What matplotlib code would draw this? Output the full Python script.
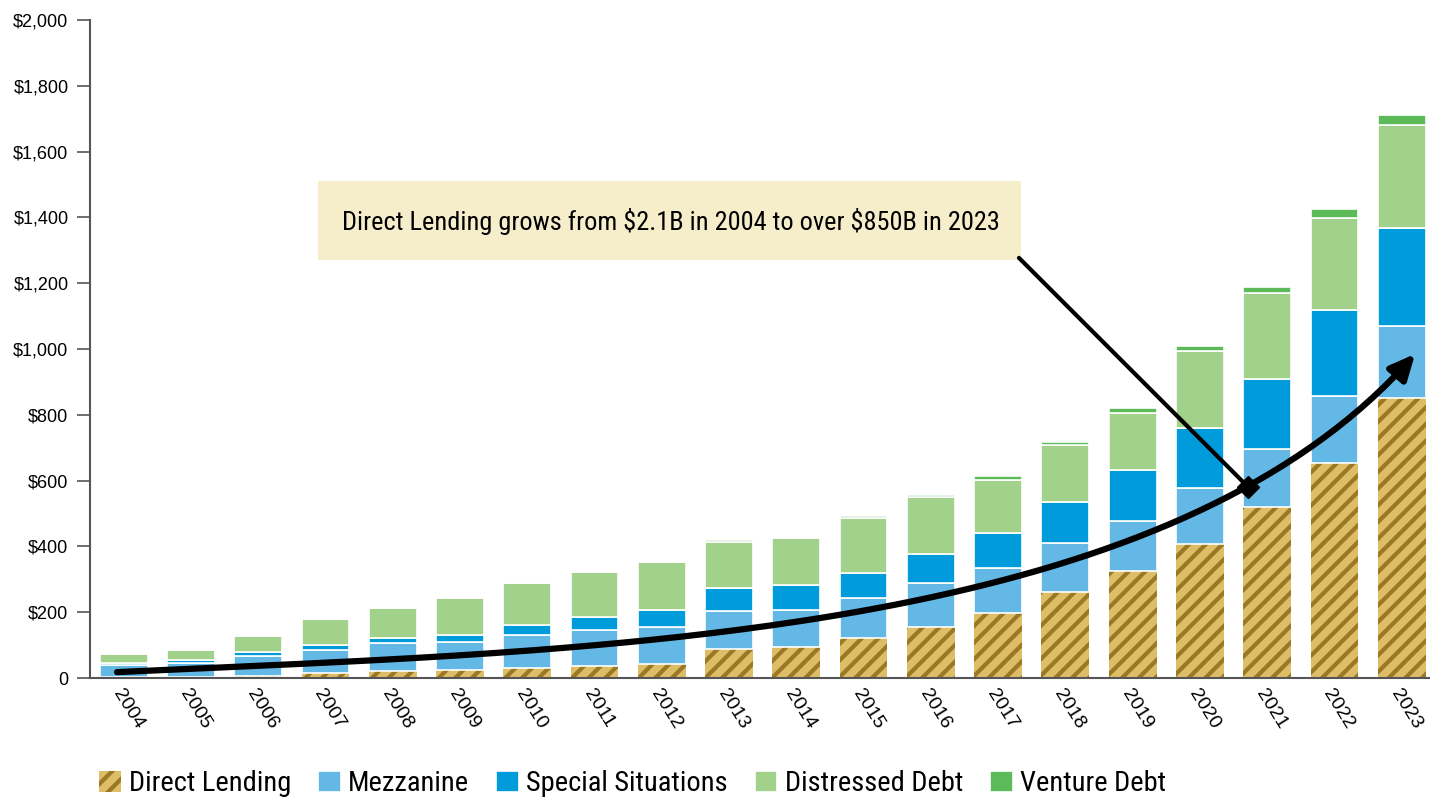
import numpy as np
import matplotlib
matplotlib.use('Agg')
import matplotlib.pyplot as plt
from matplotlib.patches import Rectangle, FancyArrowPatch
from matplotlib.path import Path

years = [str(y) for y in range(2004, 2024)]
direct_lending = [2.1, 3, 7, 15, 21, 24, 31, 37, 43, 87, 95, 123, 155, 199, 262, 325, 407, 519, 653, 852]
mezzanine = [38, 44, 59, 69, 84, 86, 100, 109, 111, 118, 112, 120, 134, 134, 149, 152, 171, 177, 205, 218]
special_sit = [6, 9, 13, 17, 17, 22, 30, 38, 53, 68, 75, 77, 87, 108, 125, 155, 182, 213, 260, 298]
distressed = [27, 28, 48, 78, 92, 110, 128, 137, 145, 141, 143, 166, 174, 162, 172, 174, 233, 260, 280, 312]
venture = [1, 1, 2, 2, 3, 4, 3, 4, 4, 5, 5, 7, 7, 11, 9, 15, 16, 19, 26, 30]

series_names = ['Direct Lending', 'Mezzanine', 'Special Situations', 'Distressed Debt', 'Venture Debt']
colors = ['#DDBD66', '#64B8E6', '#009BDA', '#A1D18B', '#5CBB58']
yticks = list(range(0, 2001, 200))
ytick_labels = ['0'] + ['${:,}'.format(v) for v in yticks[1:]]

note = 'Direct Lending grows from $2.1B in 2004 to over $850B in 2023'

narrow = ['Roboto Condensed', 'Open Sans Condensed', 'DejaVu Sans']
plt.rcParams['font.family'] = ['Liberation Sans', 'DejaVu Sans']
plt.rcParams['hatch.linewidth'] = 3

fig = plt.figure(figsize=(14.3, 7.99), dpi=100)
ax = fig.add_axes([0.063, 0.1514, 0.936, 0.8236])

x = np.arange(len(years))
w = 0.71
ax.bar(x, direct_lending, w, color=colors[0], edgecolor='#9A7826', hatch='//',
       linewidth=0, label=series_names[0])
bottom = np.array(direct_lending, dtype=float)
for vals, c, name in zip([mezzanine, special_sit, distressed, venture], colors[1:], series_names[1:]):
    ax.bar(x, vals, w, bottom=bottom, color=c, edgecolor='white', linewidth=1.2, label=name)
    bottom += np.array(vals)

ax.set_xlim(-0.5, 19.4)
ax.set_ylim(0, 2000)
ax.set_yticks(yticks)
ax.set_yticklabels(ytick_labels, fontsize=13)
ax.set_xticks(x)
ax.set_xticklabels(years, fontsize=14, rotation=-58, ha='left', va='top', rotation_mode='anchor')
ax.tick_params(axis='x', length=0, pad=6)
ax.tick_params(axis='y', length=9.5, width=1.2, color='#555555', pad=6)
for s in ['top', 'right']:
    ax.spines[s].set_visible(False)
for s in ['left', 'bottom']:
    ax.spines[s].set_color('#555555')
    ax.spines[s].set_linewidth(1.5)

# annotation box
ax.add_patch(Rectangle((2.89, 1271), 10.45, 240, facecolor='#F6EECB', edgecolor='none', zorder=3))
ax.text(8.13, 1389, note, ha='center', va='center', fontsize=19, family=narrow,
        fontstretch='condensed', parse_math=False, zorder=4)

# pointer from the box to the curve
ax.annotate('', xy=(16.72, 580), xytext=(13.31, 1277),
            arrowprops=dict(arrowstyle='-', lw=3, color='black', shrinkA=0, shrinkB=0), zorder=5)
ax.plot(16.72, 580, marker='D', ms=11, color='black', zorder=6)

# growth curve (cubic bezier sampled)
p0, p1, p2, p3 = np.array([-0.1, 18]), np.array([7, 85]), np.array([15.5, 110]), np.array([19.2, 985])
t = np.linspace(0, 1, 150)[:, None]
pts = (1 - t) ** 3 * p0 + 3 * (1 - t) ** 2 * t * p1 + 3 * (1 - t) * t ** 2 * p2 + t ** 3 * p3
curve = FancyArrowPatch(path=Path(pts), arrowstyle='-|>,head_length=0.75,head_width=0.35',
                        mutation_scale=20, lw=4.5, color='black', zorder=5)
ax.add_patch(curve)

leg = fig.legend(loc='center left', bbox_to_anchor=(0.069, 0.019), ncol=5, frameon=False,
                 prop={'family': narrow, 'size': 20.5, 'stretch': 'condensed'},
                 handlelength=0.8, handleheight=0.8,
                 handletextpad=0.25, columnspacing=0.95, borderaxespad=0, borderpad=0)

fig.savefig('out.png', dpi=100)
